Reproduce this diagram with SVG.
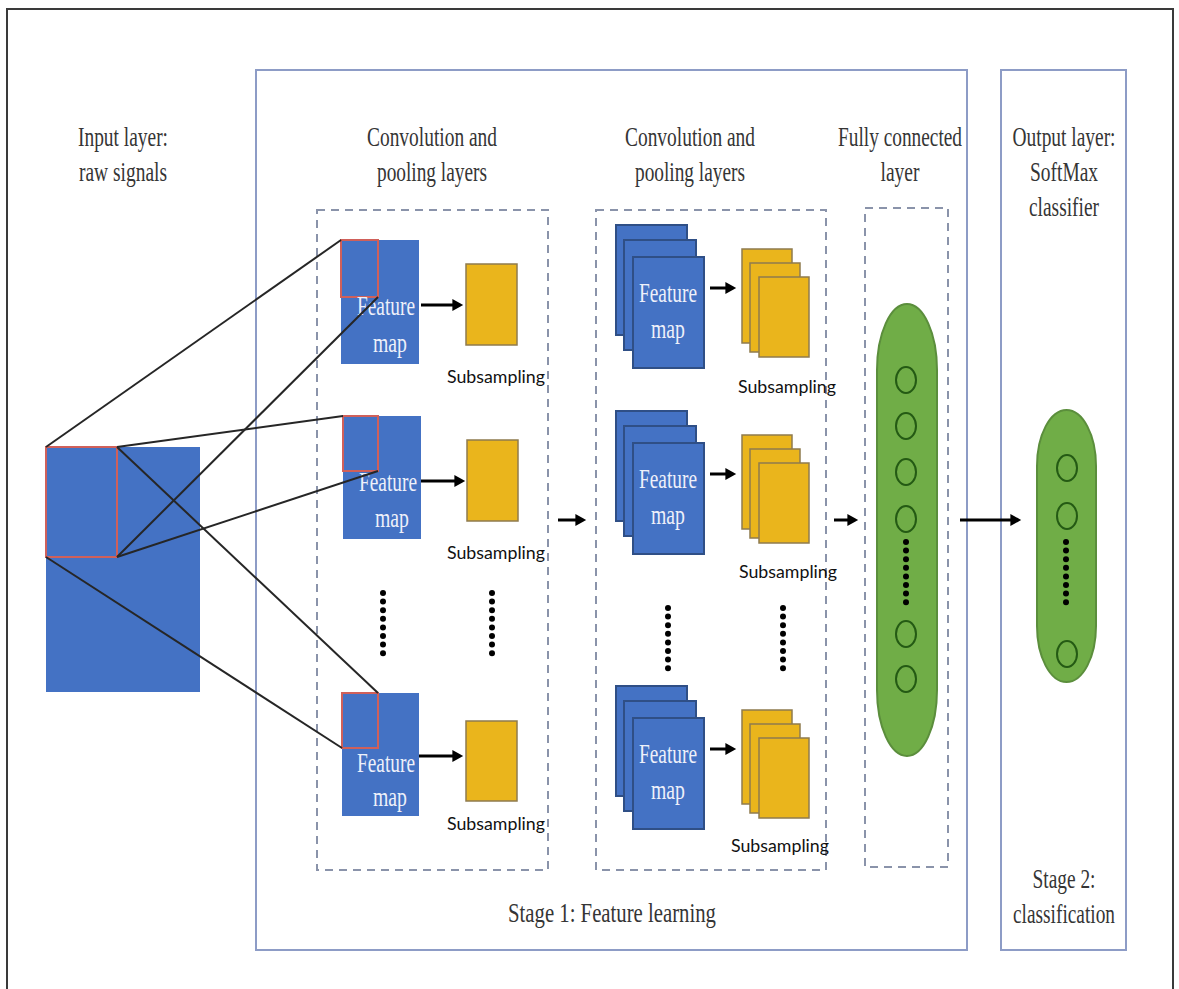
<svg xmlns="http://www.w3.org/2000/svg" width="1179" height="989" viewBox="0 0 1179 989">
  <style>
    .frame { fill: none; stroke: #3a3a3a; stroke-width: 2; }
    .stage { fill: none; stroke: #8d9cc6; stroke-width: 2; }
    .dash { fill: none; stroke: #8a93aa; stroke-width: 2; stroke-dasharray: 8 6; }
    .head { font-family: "Liberation Serif", "Times New Roman", serif; font-size: 28px; fill: #353535; text-anchor: middle; }
    .fm { fill: #4472c4; }
    .fms { fill: #4472c4; stroke: #2f4f86; stroke-width: 2; }
    .win { fill: none; stroke: #d0605a; stroke-width: 2; }
    .fmt { font-family: "Liberation Serif", "Times New Roman", serif; font-size: 27px; fill: #eef0fa; text-anchor: middle; }
    .pool { fill: #eab51c; stroke: #8f7b4e; stroke-width: 1.5; }
    .sub { font-family: Lato, "Liberation Sans", Arial, sans-serif; font-size: 17px; fill: #111; }
    .pill { fill: #70ad47; stroke: #5b8e3c; stroke-width: 2; }
    .unit { fill: none; stroke: #245a14; stroke-width: 2; }
    .dot { fill: #000; }
    .link { stroke: #262626; stroke-width: 2; fill: none; }
    .arr { stroke: #000; stroke-width: 3; fill: none; marker-end: url(#tip); }
  </style>
  <defs>
    <marker id="tip" markerWidth="4" markerHeight="4" refX="1.2" refY="2" orient="auto" markerUnits="strokeWidth">
      <path d="M0,0 L3.6,2 L0,4 Z" fill="#000"/>
    </marker>
    <g id="dots8">
      <circle class="dot" cx="0" cy="0" r="3"/>
      <circle class="dot" cx="0" cy="8.6" r="3"/>
      <circle class="dot" cx="0" cy="17.2" r="3"/>
      <circle class="dot" cx="0" cy="25.8" r="3"/>
      <circle class="dot" cx="0" cy="34.4" r="3"/>
      <circle class="dot" cx="0" cy="43" r="3"/>
      <circle class="dot" cx="0" cy="51.6" r="3"/>
      <circle class="dot" cx="0" cy="60.2" r="3"/>
    </g>
    <!-- stacked feature maps with their pooled copies -->
    <g id="stack">
      <rect class="fms" x="616" y="225" width="71" height="110"/>
      <rect class="fms" x="624" y="240" width="72" height="110"/>
      <rect class="fms" x="633" y="257" width="71" height="111"/>
      <text class="fmt" x="668" y="302" textLength="58" lengthAdjust="spacingAndGlyphs">Feature</text>
      <text class="fmt" x="668" y="338" textLength="34" lengthAdjust="spacingAndGlyphs">map</text>
      <rect class="pool" x="742" y="249" width="50" height="94"/>
      <rect class="pool" x="750" y="263" width="50" height="89"/>
      <rect class="pool" x="759" y="277" width="50" height="80"/>
    </g>
  </defs>

  <rect width="1179" height="989" fill="#fff"/>
  <rect class="frame" x="7" y="9" width="1166" height="990"/>

  <!-- stage frames and group outlines -->
  <g id="stage1">
    <rect class="stage" x="256" y="70" width="711" height="880"/>
    <text class="head" x="612" y="922" textLength="208" lengthAdjust="spacingAndGlyphs">Stage 1: Feature learning</text>
  </g>
  <g id="stage2">
    <rect class="stage" x="1001" y="70" width="125" height="880"/>
    <text class="head" x="1064" y="888" textLength="63" lengthAdjust="spacingAndGlyphs">Stage 2:</text>
    <text class="head" x="1064" y="923" textLength="102" lengthAdjust="spacingAndGlyphs">classification</text>
  </g>
  <rect class="dash" x="317" y="210" width="231" height="660"/>
  <rect class="dash" x="596" y="210" width="230" height="660"/>
  <rect class="dash" x="865" y="208" width="83" height="659"/>

  <!-- column titles -->
  <g id="titles">
    <text class="head" x="123" y="146" textLength="90" lengthAdjust="spacingAndGlyphs">Input layer:</text>
    <text class="head" x="123" y="181" textLength="88" lengthAdjust="spacingAndGlyphs">raw signals</text>
    <text class="head" x="432" y="146" textLength="130" lengthAdjust="spacingAndGlyphs">Convolution and</text>
    <text class="head" x="432" y="181" textLength="110" lengthAdjust="spacingAndGlyphs">pooling layers</text>
    <text class="head" x="690" y="146" textLength="130" lengthAdjust="spacingAndGlyphs">Convolution and</text>
    <text class="head" x="690" y="181" textLength="110" lengthAdjust="spacingAndGlyphs">pooling layers</text>
    <text class="head" x="900" y="146" textLength="124" lengthAdjust="spacingAndGlyphs">Fully connected</text>
    <text class="head" x="900" y="181" textLength="39" lengthAdjust="spacingAndGlyphs">layer</text>
    <text class="head" x="1064" y="146" textLength="103" lengthAdjust="spacingAndGlyphs">Output layer:</text>
    <text class="head" x="1064" y="181" textLength="68" lengthAdjust="spacingAndGlyphs">SoftMax</text>
    <text class="head" x="1064" y="216" textLength="70" lengthAdjust="spacingAndGlyphs">classifier</text>
  </g>

  <!-- input signal -->
  <g id="input">
    <rect class="fm" x="46" y="447" width="154" height="245"/>
    <rect class="win" x="46" y="447" width="71" height="110"/>
  </g>

  <!-- first convolution / pooling column -->
  <g id="conv1a">
    <rect class="fm" x="341" y="240" width="78" height="124"/>
    <rect class="win" x="341" y="240" width="37" height="57"/>
    <text class="fmt" x="386" y="315" textLength="58" lengthAdjust="spacingAndGlyphs">Feature</text>
    <text class="fmt" x="390" y="352" textLength="34" lengthAdjust="spacingAndGlyphs">map</text>
  </g>
  <g id="pool1a">
    <rect class="pool" x="466" y="264" width="51" height="81"/>
    <text class="sub" x="447" y="383" textLength="98" lengthAdjust="spacingAndGlyphs">Subsampling</text>
  </g>
  <g id="conv1b">
    <rect class="fm" x="343" y="416" width="78" height="123"/>
    <rect class="win" x="343" y="416" width="35" height="55"/>
    <text class="fmt" x="388" y="491" textLength="58" lengthAdjust="spacingAndGlyphs">Feature</text>
    <text class="fmt" x="392" y="527" textLength="34" lengthAdjust="spacingAndGlyphs">map</text>
  </g>
  <g id="pool1b">
    <rect class="pool" x="467" y="440" width="51" height="81"/>
    <text class="sub" x="447" y="559" textLength="98" lengthAdjust="spacingAndGlyphs">Subsampling</text>
  </g>
  <g id="conv1c">
    <rect class="fm" x="342" y="693" width="77" height="123"/>
    <rect class="win" x="342" y="693" width="36" height="55"/>
    <text class="fmt" x="386" y="772" textLength="58" lengthAdjust="spacingAndGlyphs">Feature</text>
    <text class="fmt" x="390" y="806" textLength="34" lengthAdjust="spacingAndGlyphs">map</text>
  </g>
  <g id="pool1c">
    <rect class="pool" x="466" y="721" width="51" height="80"/>
    <text class="sub" x="447" y="830" textLength="98" lengthAdjust="spacingAndGlyphs">Subsampling</text>
  </g>
  <g id="ellipsis1">
    <use href="#dots8" x="383" y="593"/>
    <use href="#dots8" x="492" y="593"/>
  </g>

  <!-- second convolution / pooling column -->
  <g id="conv2a">
    <use href="#stack"/>
    <text class="sub" x="738" y="393" textLength="98" lengthAdjust="spacingAndGlyphs">Subsampling</text>
  </g>
  <g id="conv2b">
    <use href="#stack" y="186"/>
    <text class="sub" x="739" y="578" textLength="98" lengthAdjust="spacingAndGlyphs">Subsampling</text>
  </g>
  <g id="conv2c">
    <use href="#stack" y="461"/>
    <text class="sub" x="731" y="852" textLength="98" lengthAdjust="spacingAndGlyphs">Subsampling</text>
  </g>
  <g id="ellipsis2">
    <use href="#dots8" x="668" y="608"/>
    <use href="#dots8" x="783" y="608"/>
  </g>

  <!-- fully connected layer -->
  <g id="dense">
    <rect class="pill" x="877" y="304" width="60" height="452" rx="30" ry="66"/>
    <ellipse class="unit" cx="906" cy="380" rx="10" ry="13"/>
    <ellipse class="unit" cx="906" cy="426" rx="10" ry="13"/>
    <ellipse class="unit" cx="906" cy="472" rx="10" ry="13"/>
    <ellipse class="unit" cx="906" cy="519" rx="10" ry="13"/>
    <use href="#dots8" x="906" y="542"/>
    <ellipse class="unit" cx="906" cy="634" rx="10" ry="13"/>
    <ellipse class="unit" cx="906" cy="679" rx="10" ry="13"/>
  </g>

  <!-- softmax output -->
  <g id="output">
    <rect class="pill" x="1037" y="410" width="59" height="272" rx="29.5" ry="56"/>
    <ellipse class="unit" cx="1067" cy="468" rx="10" ry="13"/>
    <ellipse class="unit" cx="1067" cy="516" rx="10" ry="13"/>
    <use href="#dots8" x="1066" y="542"/>
    <ellipse class="unit" cx="1067" cy="654" rx="10" ry="13"/>
  </g>

  <!-- receptive-field lines and data-flow arrows -->
  <g id="connectors">
    <line class="link" x1="46" y1="447" x2="341" y2="240"/>
    <line class="link" x1="117" y1="447" x2="343" y2="416"/>
    <line class="link" x1="117" y1="447" x2="378" y2="693"/>
    <line class="link" x1="117" y1="557" x2="378" y2="297"/>
    <line class="link" x1="117" y1="557" x2="378" y2="471"/>
    <line class="link" x1="46" y1="557" x2="342" y2="748"/>
    <line class="arr" x1="421" y1="305" x2="456" y2="305"/>
    <line class="arr" x1="421" y1="481" x2="458" y2="481"/>
    <line class="arr" x1="419" y1="756" x2="456" y2="756"/>
    <line class="arr" x1="710" y1="288" x2="729" y2="288"/>
    <line class="arr" x1="710" y1="474" x2="729" y2="474"/>
    <line class="arr" x1="710" y1="749" x2="729" y2="749"/>
    <line class="arr" x1="558" y1="520" x2="579" y2="520"/>
    <line class="arr" x1="834" y1="520" x2="851" y2="520"/>
    <line class="arr" x1="960" y1="520" x2="1014" y2="520"/>
  </g>
</svg>
